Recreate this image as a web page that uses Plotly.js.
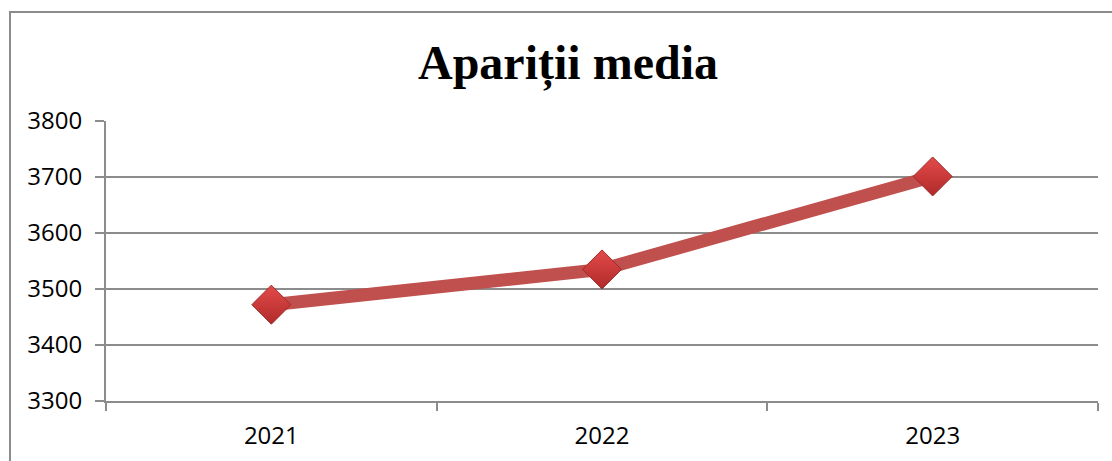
<!DOCTYPE html>
<html>
<head>
<meta charset="utf-8">
<script src="https://cdn.plot.ly/plotly-3.0.1.min.js"></script>
<style>
html,body{margin:0;padding:0;background:#fff;overflow:hidden;}
#wrap{position:relative;width:1112px;height:461px;}
#chart{position:absolute;left:0;top:0;width:1112px;height:461px;}
#frame{position:absolute;left:9px;top:11px;width:1120px;height:470px;border:2px solid #8c8c8c;box-sizing:border-box;pointer-events:none;}
</style>
</head>
<body>
<div id="wrap">
<div id="chart"></div>
<div id="frame"></div>
</div>
<script>
const years = ['2021', '2022', '2023'];
const values = [3472, 3535, 3701];
const yTicks = [3300, 3400, 3500, 3600, 3700, 3800];
const chartTitle = 'Apariții media';

const trace = {
  x: years,
  y: values,
  type: 'scatter',
  mode: 'lines+markers',
  line: {color: '#c0504d', width: 13},
  marker: {
    symbol: 'diamond',
    size: 30,
    color: '#e44a4a',
    gradient: {type: 'vertical', color: '#b02a2a'},
    line: {color: '#9c2a2a', width: 1}
  },
  hoverinfo: 'x+y'
};

const layout = {
  width: 1112,
  height: 461,
  margin: {l: 106, r: 14, t: 121, b: 60},
  paper_bgcolor: 'rgba(0,0,0,0)',
  plot_bgcolor: '#fff',
  showlegend: false,
  title: {
    text: '<b>' + chartTitle + '</b>',
    font: {family: 'Liberation Serif, Times New Roman, serif', size: 48, color: '#000'},
    x: 568/1112, xanchor: 'center',
    y: 1 - 62/461, yanchor: 'middle', yref: 'container', xref: 'container'
  },
  xaxis: {
    type: 'category',
    range: [-0.5, 2.5],
    tickmode: 'array',
    tickvals: years,
    ticktext: years,
    tickson: 'boundaries',
    ticks: 'outside',
    ticklen: 8,
    tickwidth: 2,
    tickcolor: '#8c8c8c',
    showline: true,
    linecolor: '#8c8c8c',
    linewidth: 2,
    showgrid: false,
    zeroline: false,
    ticklabelstandoff: 12,
    tickfont: {family: 'Open Sans, sans-serif', size: 24, color: '#000'},
    fixedrange: true
  },
  yaxis: {
    range: [3300, 3800],
    tickmode: 'array',
    tickvals: yTicks,
    ticktext: yTicks.map(String),
    ticks: 'outside',
    ticklen: 9,
    tickwidth: 2,
    tickcolor: '#8c8c8c',
    showline: true,
    linecolor: '#8c8c8c',
    linewidth: 2,
    showgrid: true,
    gridcolor: '#8c8c8c',
    gridwidth: 2,
    zeroline: false,
    ticklabelstandoff: 8,
    tickfont: {family: 'Open Sans, sans-serif', size: 24, color: '#000'},
    fixedrange: true
  }
};

Plotly.newPlot('chart', [trace], layout, {displayModeBar: false, staticPlot: true});
</script>
</body>
</html>
